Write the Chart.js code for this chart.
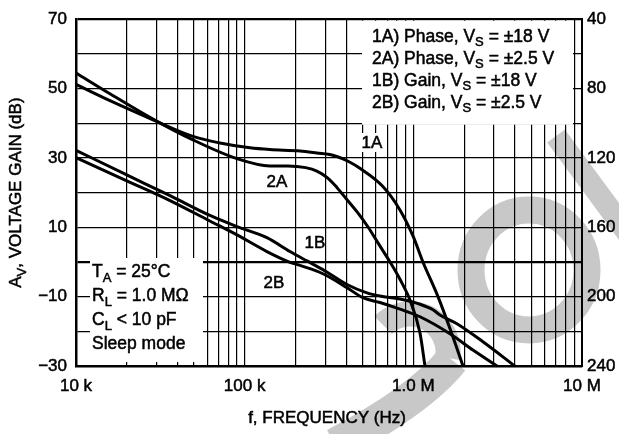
<!DOCTYPE html>
<html>
<head>
<meta charset="utf-8">
<script src="https://cdn.jsdelivr.net/npm/chart.js@4/dist/chart.umd.min.js"></script>
<style>
  html, body { margin: 0; padding: 0; background: #fff; }
  canvas { display: block; }
</style>
</head>
<body>
<canvas id="plot" width="619" height="434"></canvas>
<script>
// Open-loop gain and phase vs. frequency, sleep mode

// Phase curves (degrees, right axis)
const phase1A_freq = [10e3, 15.9e3, 28.6e3, 49.4e3, 71.4e3, 107.5e3, 141e3, 213e3, 268e3, 333e3, 421e3, 482e3, 660e3, 833e3, 995e3, 1.14e6, 1.40e6, 1.671e6, 1.969e6];
const phase1A_deg  = [77.6, 87, 98, 107.6, 111.4, 114.2, 115.2, 116, 117.2, 118.5, 122.5, 126, 136.5, 150, 165, 180, 200, 220, 240];

const phase2A_freq = [10e3, 15.9e3, 28.6e3, 49.4e3, 90e3, 141e3, 180e3, 230e3, 268e3, 310e3, 352e3, 400e3, 463e3, 540e3, 608e3, 727e3, 833e3, 955e3, 1.095e6, 1.172e6];
const phase2A_deg  = [71, 83, 97.6, 109.6, 120.4, 124.6, 124.6, 125.6, 127.6, 131.5, 137, 143.5, 151, 160, 168, 180, 190, 202, 221, 240];

// Gain curves (dB, left axis)
const gain1B_freq = [10e3, 20e3, 36.1e3, 62.2e3, 90e3, 135.5e3, 185.6e3, 234e3, 291e3, 404e3, 531e3, 634e3, 833e3, 1.095e6, 1.307e6, 1.438e6, 1.813e6, 2.586e6, 4.0e6];
const gain1B_db   = [32.2, 25.1, 19.1, 13.4, 10.2, 7.0, 3.0, 0.3, -2.2, -6.5, -8.9, -9.8, -10.7, -12.2, -13.8, -15.3, -17.8, -23, -30];

const gain2B_freq = [10e3, 20e3, 36.1e3, 62.2e3, 90e3, 135.5e3, 185.6e3, 212.8e3, 291e3, 404e3, 502e3, 634e3, 833e3, 1.095e6, 1.649e6, 2.256e6, 3.133e6];
const gain2B_db   = [30.1, 23.4, 17.7, 11.8, 7.8, 3.0, -0.1, -1.0, -3.4, -7.4, -10.3, -11.7, -13.6, -15.8, -20.7, -25.4, -30];

// Axis ticks and labels
const freqLabelValues = [1e4, 1e5, 1e6, 1e7];
const freqLabelText   = ['10 k', '100 k', '1.0 M', '10 M'];
const gainLabelValues = [70, 50, 30, 10, -10, -30];
const gainLabelText   = ['70', '50', '30', '10', '\u221210', '\u221230'];
const phaseLabelValues = [40, 80, 120, 160, 200, 240];
const phaseLabelText   = ['40', '80', '120', '160', '200', '240'];

// Curve tags
const curveTags = ['1A', '2A', '1B', '2B'];

const FONT = '"Liberation Sans", Arial, Helvetica, sans-serif';

function pts(xs, ys) { return xs.map((x, i) => ({ x: x, y: ys[i] })); }

// gridline positions: 1..9 per decade
function decadeTicks(lo, hi) {
  const out = [];
  for (let d = lo; d < hi; d *= 10) {
    for (let m = 1; m < 10; m++) out.push({ value: m * d });
  }
  out.push({ value: hi });
  return out;
}

// text made of runs, some of them subscripts
function richWidth(ctx, runs, size) {
  let w = 0;
  runs.forEach(r => {
    ctx.font = (r[1] ? Math.round(size * 0.74) : size) + 'px ' + FONT;
    w += ctx.measureText(r[0]).width;
  });
  return w;
}
function drawRich(ctx, runs, x, y, size) {
  runs.forEach(r => {
    const s = r[1] ? Math.round(size * 0.74) : size;
    ctx.font = s + 'px ' + FONT;
    const yy = y + (r[1] ? size * 0.28 : 0);
    ctx.strokeText(r[0], x, yy);
    ctx.fillText(r[0], x, yy);
    x += ctx.measureText(r[0]).width;
  });
}

const legendLines = [
  [['1A) Phase, V', 0], ['S', 1], [' = \u00b118 V', 0]],
  [['2A) Phase, V', 0], ['S', 1], [' = \u00b12.5 V', 0]],
  [['1B) Gain, V', 0], ['S', 1], [' = \u00b118 V', 0]],
  [['2B) Gain, V', 0], ['S', 1], [' = \u00b12.5 V', 0]]
];
const conditionLines = [
  [['T', 0], ['A', 1], [' = 25\u00b0C', 0]],
  [['R', 0], ['L', 1], [' = 1.0 M\u03a9', 0]],
  [['C', 0], ['L', 1], [' < 10 pF', 0]],
  [['Sleep mode', 0]]
];

// faint grey stamp behind the plot
const stamp = {
  id: 'stamp',
  beforeDraw(chart) {
    const ctx = chart.ctx;
    ctx.save();
    ctx.fillStyle = '#fff';
    ctx.fillRect(0, 0, chart.width, chart.height);
    ctx.strokeStyle = '#c8c8c8';
    ctx.lineCap = 'butt';
    // diagonal stroke, upper right
    ctx.lineWidth = 22;
    ctx.beginPath();
    ctx.moveTo(556, 136);
    ctx.lineTo(640, 250);
    ctx.stroke();
    // ring, right
    ctx.lineWidth = 27;
    ctx.beginPath();
    ctx.ellipse(529, 270, 58, 60, 0, 0, Math.PI * 2);
    ctx.stroke();
    // lower hook with tail
    ctx.lineWidth = 25;
    ctx.beginPath();
    ctx.arc(410, 352, 38, Math.PI * 0.05, Math.PI * 1.25, true);
    ctx.stroke();
    ctx.lineWidth = 34;
    ctx.beginPath();
    ctx.moveTo(452, 360);
    ctx.quadraticCurveTo(420, 400, 335, 445);
    ctx.stroke();
    ctx.restore();
  }
};

const annotations = {
  id: 'annotations',
  beforeDatasetsDraw(chart) {
    const ctx = chart.ctx;
    const ys = chart.scales.y;
    ctx.save();
    ctx.fillStyle = '#fff';
    // legend panel (top right) and conditions panel (bottom left)
    ctx.fillRect(362, ys.getPixelForValue(70) + 1.5, 211, 104);
    ctx.fillRect(90, 258, 113, 104);
    // background behind the 1A tag
    ctx.fillRect(361, 133, 23, 19);

    ctx.fillStyle = '#000';
    ctx.strokeStyle = '#000';
    ctx.lineWidth = 0.5;
    ctx.textBaseline = 'alphabetic';
    ctx.textAlign = 'left';
    const legBase = [41.5, 63.5, 85.5, 107.5];
    legendLines.forEach((runs, i) => drawRich(ctx, runs, 372, legBase[i], 17.5));
    const condBase = [277, 301, 325, 349];
    conditionLines.forEach((runs, i) => drawRich(ctx, runs, 92, condBase[i], 17.5));

    // curve tags
    ctx.font = '17px ' + FONT;
    ctx.textAlign = 'center';
    ctx.textBaseline = 'middle';
    const tagPos = [[372, 143], [277, 182], [315, 243], [274, 283]];
    curveTags.forEach((t, i) => {
      ctx.strokeText(t, tagPos[i][0], tagPos[i][1]);
      ctx.fillText(t, tagPos[i][0], tagPos[i][1]);
    });
    ctx.restore();
  },
  afterDraw(chart) {
    const ctx = chart.ctx;
    const a = chart.chartArea;
    ctx.save();
    ctx.fillStyle = '#000';
    ctx.strokeStyle = '#000';
    ctx.lineWidth = 0.5;
    ctx.textBaseline = 'alphabetic';
    ctx.textAlign = 'left';
    // x-axis title
    ctx.font = '17px ' + FONT;
    const xt = 'f, FREQUENCY (Hz)';
    const xw = ctx.measureText(xt).width;
    ctx.strokeText(xt, (a.left + a.right) / 2 - xw / 2 - 2, 423);
    ctx.fillText(xt, (a.left + a.right) / 2 - xw / 2 - 2, 423);
    // y-axis title, rotated
    const yRuns = [['A', 0], ['V', 1], [', VOLTAGE GAIN (dB)', 0]];
    const yw = richWidth(ctx, yRuns, 17);
    ctx.translate(21, (a.top + a.bottom) / 2);
    ctx.rotate(-Math.PI / 2);
    drawRich(ctx, yRuns, -yw / 2, 0, 17);
    ctx.restore();
  }
};

const black = '#000';
const ds = (data, axis) => ({
  data: data,
  yAxisID: axis,
  borderColor: black,
  borderWidth: 3,
  pointRadius: 0,
  fill: false,
  cubicInterpolationMode: 'monotone',
  borderCapStyle: 'butt',
  clip: 2
});

const tickFont = { family: FONT, size: 17 };

new Chart(document.getElementById('plot'), {
  type: 'line',
  data: {
    datasets: [
      ds(pts(phase1A_freq, phase1A_deg), 'y2'),
      ds(pts(phase2A_freq, phase2A_deg), 'y2'),
      ds(pts(gain1B_freq, gain1B_db), 'y'),
      ds(pts(gain2B_freq, gain2B_db), 'y')
    ]
  },
  options: {
    responsive: false,
    animation: false,
    devicePixelRatio: 1,
    layout: { padding: { top: 14, left: 0, right: 0, bottom: 0 } },
    plugins: { legend: { display: false }, tooltip: { enabled: false } },
    scales: {
      x: {
        type: 'logarithmic',
        min: 1e4, max: 1e7,
        afterBuildTicks: s => { s.ticks = decadeTicks(1e4, 1e7); },
        afterFit: s => { s.height = 68; },
        grid: { color: black, lineWidth: 1.2, drawTicks: false },
        border: { color: black, width: 2.5 },
        ticks: {
          autoSkip: false, maxRotation: 0, padding: 10, color: black,
          textStrokeColor: black, textStrokeWidth: 0.5,
          font: tickFont,
          callback: v => {
            const i = freqLabelValues.findIndex(f => Math.abs(f - v) / f < 1e-6);
            return i >= 0 ? freqLabelText[i] : '';
          }
        }
      },
      y: {
        type: 'linear', position: 'left',
        min: -30, max: 70,
        afterFit: s => { s.width = 76; },
        grid: {
          color: black, drawTicks: false,
          lineWidth: c => (c.tick && (c.tick.value === 0 || c.tick.value === 70)) ? 2.2 : 1.2
        },
        border: { color: black, width: 2.5 },
        ticks: {
          stepSize: 10, padding: 9, color: black,
          textStrokeColor: black, textStrokeWidth: 0.5,
          font: tickFont,
          callback: v => {
            const i = gainLabelValues.indexOf(v);
            return i >= 0 ? gainLabelText[i] : '';
          }
        }
      },
      y2: {
        type: 'linear', position: 'right',
        min: 40, max: 240, reverse: true,
        afterFit: s => { s.width = 37; },
        grid: { drawOnChartArea: false, drawTicks: false },
        border: { color: black, width: 2 },
        ticks: {
          stepSize: 20, padding: 5, color: black,
          textStrokeColor: black, textStrokeWidth: 0.5,
          font: tickFont,
          callback: v => {
            const i = phaseLabelValues.indexOf(v);
            return i >= 0 ? phaseLabelText[i] : '';
          }
        }
      }
    }
  },
  plugins: [stamp, annotations]
});
</script>
</body>
</html>
